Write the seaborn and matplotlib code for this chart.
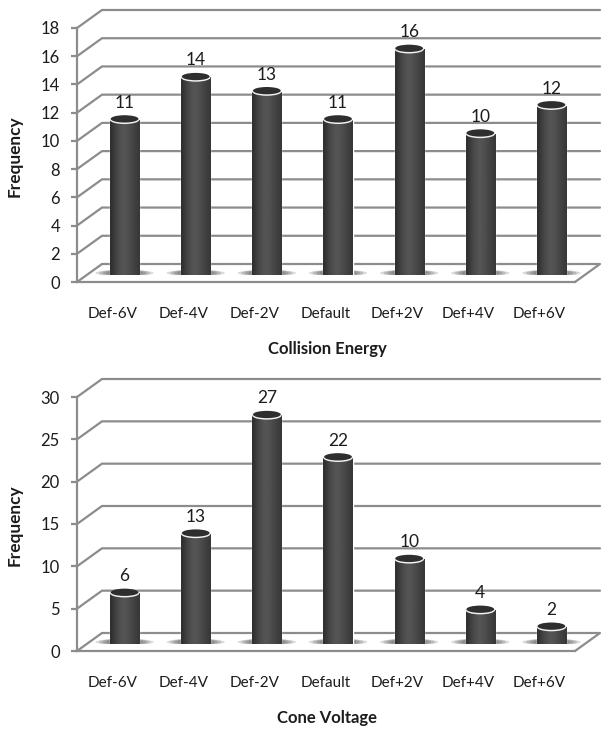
import numpy as np
import matplotlib
matplotlib.use("Agg")
import matplotlib.pyplot as plt
import seaborn as sns
from matplotlib.patches import Ellipse

categories = ["Def-6V", "Def-4V", "Def-2V", "Default", "Def+2V", "Def+4V", "Def+6V"]
collision_values = [11, 14, 13, 11, 16, 10, 12]
cone_values = [6, 13, 27, 22, 10, 4, 2]
collision_ticks = [0, 2, 4, 6, 8, 10, 12, 14, 16, 18]
cone_ticks = [0, 5, 10, 15, 20, 25, 30]

sns.set_style("white")
plt.rcParams["font.family"] = ["Lato", "DejaVu Sans"]

W, H = 604, 741
GRID = "#8c8c8c"
TEXT = "#1c1c1c"


def px_axes(fig, left, right, top, bottom):
    # axes position given in image pixels
    return fig.add_axes([left / W, 1 - bottom / H, (right - left) / W, (bottom - top) / H])


def draw_chart(fig, values, ticks, top_px, zero_px, xlabel, xlabel_y, ylabel_y):
    # the "room": front axis, diagonals and back wall lines
    wall = px_axes(fig, 77, 575, top_px, zero_px)
    wall.set_xlim(-0.5, 6.5)
    wall.set_ylim(0, ticks[-1])
    scale = (zero_px - top_px) / ticks[-1]
    dx = 25 / 498
    dy = 18 / scale
    trans = wall.get_yaxis_transform()
    for t in ticks:
        if t == 0:
            wall.plot([0, dx], [0, dy], color=GRID, lw=1.6, transform=trans, clip_on=False)
            wall.plot([dx, 1 + dx, 1], [dy, dy, 0], color=GRID, lw=1.6, transform=trans, clip_on=False)
        else:
            wall.plot([0, dx, 1 + dx], [t, t + dy, t + dy], color=GRID, lw=1.6, transform=trans, clip_on=False)
    for side in ["top", "right"]:
        wall.spines[side].set_visible(False)
    for side in ["left", "bottom"]:
        wall.spines[side].set_color(GRID)
        wall.spines[side].set_linewidth(1.6)
    wall.set_yticks(ticks)
    wall.set_xticks(range(len(categories)))
    wall.set_xticklabels(categories)
    wall.tick_params(axis="y", left=True, length=4.3, width=1.6, color=GRID, labelsize=12, labelcolor=TEXT, pad=8)
    wall.tick_params(axis="x", bottom=False, labelsize=11, labelcolor=TEXT, pad=14.5)
    wall.set_facecolor("white")
    fig.text(327 / W, 1 - xlabel_y / H, xlabel, ha="center", va="center", fontsize=12,
             fontweight="bold", color=TEXT)
    fig.text(15 / W, 1 - ylabel_y / H, "Frequency", ha="center", va="center", rotation=90,
             fontsize=12.4, fontweight="bold", color=TEXT)

    # bars sit inside the room, so their axes are shifted right and up
    bars = px_axes(fig, 89, 587, top_px - 7, zero_px - 7)
    bars.patch.set_alpha(0)
    sns.barplot(x=categories, y=values, color="#404040", saturation=1, width=0.41, ax=bars)
    bars.set_xlim(-0.5, 6.5)
    bars.set_ylim(0, ticks[-1])
    bars.set_axis_off()
    container = bars.containers[0]

    eh = 8.5 / scale
    shade = np.array([0.19, 0.22, 0.26, 0.29, 0.31, 0.33, 0.33, 0.32, 0.3, 0.28, 0.26, 0.24, 0.22]).reshape(1, -1)
    for patch in container:
        x, w, h = patch.get_x(), patch.get_width(), patch.get_height()
        cx = x + w / 2
        # soft floor shadow
        for k, a in zip([2.0, 1.75, 1.5, 1.25], [0.25, 0.3, 0.35, 0.4]):
            bars.add_patch(Ellipse((cx, 2 / scale), w * k, 6.5 / scale, color="#6e6e6e", alpha=a, lw=0, zorder=1))
        # rounded base with a thin light rim
        bars.add_patch(Ellipse((cx, -0.5 / scale), w + 0.015, eh, color="#d8d8d8", lw=0, zorder=2))
        base = Ellipse((cx, 0), w, eh, color="#404040", lw=0, zorder=3)
        bars.add_patch(base)
        im = bars.imshow(shade, cmap="gray", vmin=0, vmax=1, extent=[x, x + w, -eh, eh], aspect="auto", zorder=3.1)
        im.set_clip_path(base)
        patch.set_zorder(3)
        body = bars.imshow(shade, cmap="gray", vmin=0, vmax=1, extent=[x, x + w, 0, h], aspect="auto", zorder=3.2)
        body.set_clip_path(patch)
        # top cap: white rim then dark ellipse
        bars.add_patch(Ellipse((cx, h), w + 0.005, eh, color="#f2f2f2", lw=0, zorder=4))
        bars.add_patch(Ellipse((cx, h + 0.9 / scale), w - 0.02, eh - 1.2 / scale, color="#2e2e2e", lw=0, zorder=4.1))
    bars.set_xlim(-0.5, 6.5)
    bars.set_ylim(0, ticks[-1])
    bars.bar_label(container, fmt="%d", padding=6.5, fontsize=12.5, color=TEXT, zorder=5)


fig = plt.figure(figsize=(W / 100, H / 100), dpi=100, facecolor="white")
draw_chart(fig, collision_values, collision_ticks, 28, 282, "Collision Energy", 349, 156)
draw_chart(fig, cone_values, cone_ticks, 397, 651, "Cone Voltage", 718, 525)
fig.savefig("out.png", dpi=100)
